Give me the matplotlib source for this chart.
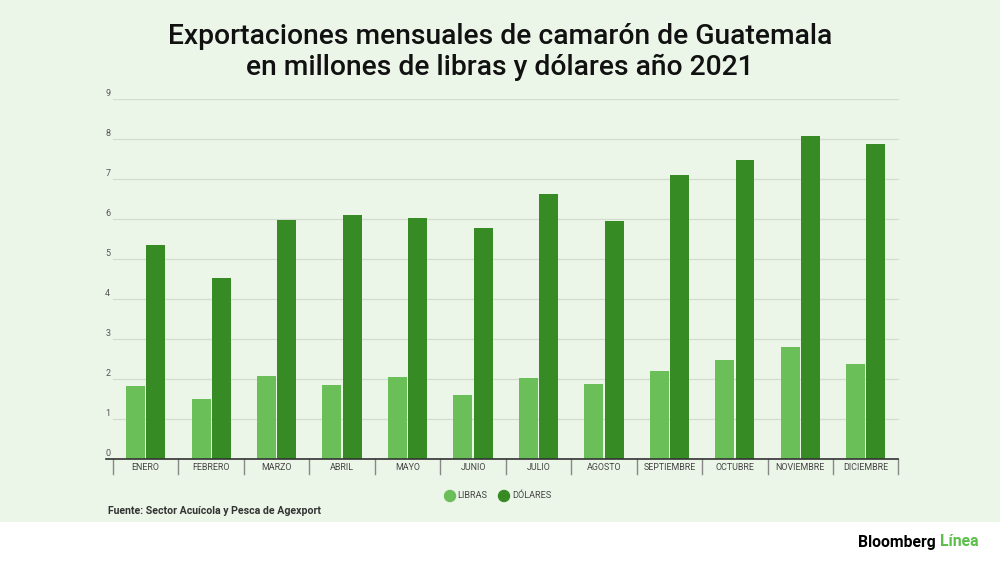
import matplotlib.pyplot as plt
from matplotlib.patches import Ellipse, Rectangle
import numpy as np

# Datos (millones)
meses = ['ENERO', 'FEBRERO', 'MARZO', 'ABRIL', 'MAYO', 'JUNIO', 'JULIO',
         'AGOSTO', 'SEPTIEMBRE', 'OCTUBRE', 'NOVIEMBRE', 'DICIEMBRE']
libras = [1.82, 1.49, 2.07, 1.84, 2.06, 1.60, 2.02, 1.87, 2.21, 2.47, 2.79, 2.38]
dolares = [5.34, 4.53, 5.97, 6.09, 6.03, 5.78, 6.62, 5.94, 7.09, 7.48, 8.08, 7.88]
yticks = list(range(0, 10))

bg = '#ebf5e8'
c_lib = '#6abf58'
c_dol = '#378b24'
fnt = 'Roboto'

fig = plt.figure(figsize=(10, 5.62), dpi=100)
fig.patch.set_facecolor('white')
# fondo verde claro hasta y=522px
fig.patches.append(Rectangle((0, 1 - 522 / 562), 1, 522 / 562, transform=fig.transFigure,
                             facecolor=bg, edgecolor='none', zorder=-10))

ax = fig.add_axes([113 / 1000, 1 - 459 / 562, (898.5 - 113) / 1000, 360 / 562])
ax.set_facecolor('none')

x = np.arange(len(meses))
w = 0.29
ax.bar(x - 0.155, libras, w, color=c_lib, zorder=3)
ax.bar(x + 0.155, dolares, w, color=c_dol, zorder=3)

ax.set_xlim(-0.5, 11.5)
ax.set_ylim(0, 9)
for s in ax.spines.values():
    s.set_visible(False)
ax.set_yticks(yticks)
ax.yaxis.grid(True, color='#d3dcd0', linewidth=0.9, zorder=0)
ax.tick_params(left=False, bottom=False, labelleft=False, labelbottom=False)

# linea base y separadores
ax.plot([-0.6, 11.5], [0, 0], color='#333333', lw=1.2, clip_on=False, zorder=4)
for b in np.arange(-0.5, 12, 1):
    ax.plot([b, b], [0, -0.37], color='#888888', lw=1, clip_on=False)
for i, m in enumerate(meses):
    ax.text(i, -0.2, m, ha='center', va='center', fontsize=6.4, color='#444444',
            family=fnt)

for t in yticks:
    ax.text(-0.58, t + 0.03, str(t), ha='center', va='bottom', fontsize=6.5,
            color='#555555', family=fnt)

fig.text(0.5, 1 - 37 / 562, 'Exportaciones mensuales de camarón de Guatemala',
         ha='center', va='center', fontsize=20.3, family=fnt, weight='medium', color='#111111')
fig.text(0.5, 1 - 67 / 562, 'en millones de libras y dólares año 2021',
         ha='center', va='center', fontsize=20.3, family=fnt, weight='medium', color='#111111')

# leyenda
ly = 1 - 496 / 562
fig.patches.append(Ellipse((450 / 1000, ly), 11 / 1000, 11 / 562, transform=fig.transFigure,
                           color=c_lib))
fig.text(457 / 1000, ly, 'LIBRAS', ha='left', va='center', fontsize=6.6, family=fnt,
         color='#444444')
fig.patches.append(Ellipse((504 / 1000, ly), 11 / 1000, 11 / 562, transform=fig.transFigure,
                           color=c_dol))
fig.text(512 / 1000, ly, 'DÓLARES', ha='left', va='center', fontsize=6.6, family=fnt,
         color='#444444')

fig.text(108 / 1000, 1 - 511 / 562, 'Fuente: Sector Acuícola y Pesca de Agexport',
         ha='left', va='center', fontsize=7.6, family=fnt, weight='bold', color='#333333')

fig.text(858 / 1000, 1 - 542 / 562, 'Bloomberg', ha='left', va='center', fontsize=11.3,
         family=fnt, weight='bold', color='black')
fig.text(940 / 1000, 1 - 542 / 562, 'Línea', ha='left', va='center', fontsize=11.3,
         family=fnt, weight='bold', color='#5cbf4a')

fig.savefig('out.png', dpi=100, facecolor=fig.get_facecolor())
